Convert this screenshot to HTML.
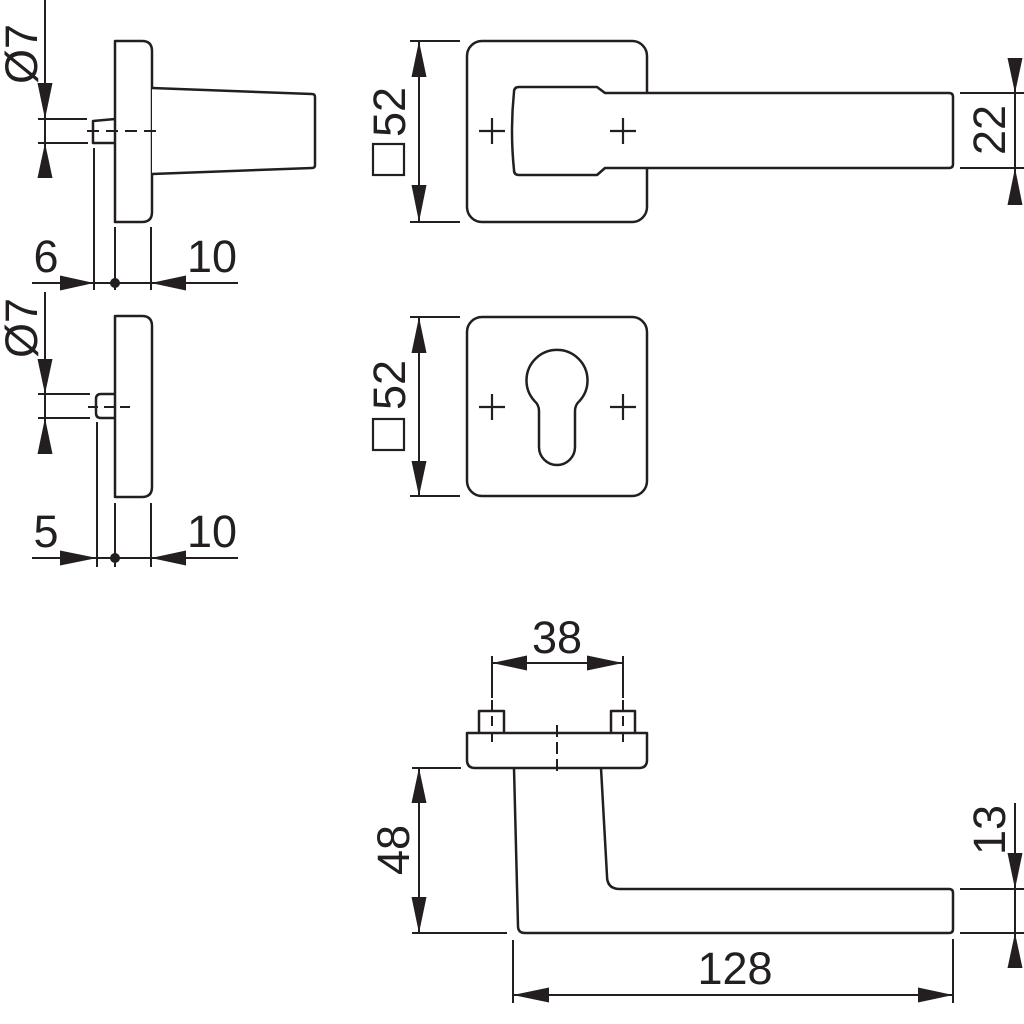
<!DOCTYPE html>
<html>
<head>
<meta charset="utf-8">
<style>
html,body{margin:0;padding:0;background:#fff;}
svg{display:block;}
text{font-family:"Liberation Sans",Arial,sans-serif;font-size:45px;fill:#231f20;}
</style>
</head>
<body>
<svg width="1024" height="1024" viewBox="0 0 1024 1024" xmlns="http://www.w3.org/2000/svg">
<g fill="none" stroke="#231f20" stroke-width="2.5" stroke-linejoin="round">

<!-- ===== Side view 1 (lever rose) ===== -->
<path d="M115,41 H142 Q152,41 152,51 V212 Q152,222 142,222 H115 Z"/>
<path d="M152,88 L312,94 Q315,94 315,97 V165 Q315,168 312,168 L152,174" fill="#fff"/>
<path d="M115,119 L93,121 V143 H115"/>
<line x1="87" y1="131" x2="158" y2="131" stroke-width="2" stroke-dasharray="12,7"/>

<!-- ===== Side view 2 (escutcheon) ===== -->
<path d="M115,316 H142 Q152,316 152,326 V487 Q152,497 142,497 H115 Z"/>
<path d="M115,394 H101 Q96,394 96,399 V413 Q96,418 101,418 H115"/>
<line x1="88" y1="407" x2="130" y2="407" stroke-width="2" stroke-dasharray="10,6"/>

<!-- ===== Top view rose with handle ===== -->
<rect x="467" y="41" width="180" height="181" rx="15" ry="15"/>
<path d="M519,87 H597 L605,93 H949 Q953,93 953,97 V164 Q953,168 949,168 H605 L597,175 H519 Q514,175 514,170 Q510,131 514,92 Q514,87 519,87 Z" fill="#fff"/>

<!-- ===== Escutcheon front ===== -->
<rect x="467" y="317" width="180" height="179" rx="15" ry="15"/>
<path d="M539,447 V411 Q539,405 534.5,401 A30.5,30.5 0 1 1 579.5,401 Q575,405 575,411 V447 A18,18 0 0 1 539,447 Z"/>

<!-- ===== Bottom side view lever ===== -->
<path d="M467,733 H647 V760 Q647,768 639,768 H475 Q467,768 467,760 Z"/>
<path d="M479,733 V711 H504 V733"/>
<path d="M611,733 V711 H635 V733"/>
<path d="M514,768 L518,926 Q518,933 525,933 H949 Q953,933 953,929 V893 Q953,889 949,889 H620 Q607,889 607,876 L601,768"/>
</g>

<!-- crosses -->
<g stroke="#231f20" stroke-width="2.2">
<line x1="479" y1="131" x2="505" y2="131"/><line x1="492" y1="118" x2="492" y2="144"/>
<line x1="610" y1="131" x2="636" y2="131"/><line x1="623" y1="118" x2="623" y2="144"/>
<line x1="479" y1="407" x2="505" y2="407"/><line x1="492" y1="394" x2="492" y2="420"/>
<line x1="610" y1="407" x2="636" y2="407"/><line x1="623" y1="394" x2="623" y2="420"/>
</g>

<!-- ===== Dimension lines ===== -->
<g stroke="#231f20" stroke-width="2" fill="none">
<line x1="45" y1="0" x2="45" y2="178"/>
<line x1="38" y1="119" x2="87" y2="119"/>
<line x1="38" y1="143" x2="88" y2="143"/>
<line x1="94" y1="148" x2="94" y2="290"/>
<line x1="115" y1="227" x2="115" y2="290"/>
<line x1="151" y1="227" x2="151" y2="290"/>
<line x1="32" y1="283" x2="238" y2="283"/>
<line x1="45" y1="292" x2="45" y2="454"/>
<line x1="38" y1="394" x2="90" y2="394"/>
<line x1="38" y1="418" x2="90" y2="418"/>
<line x1="97" y1="422" x2="97" y2="567"/>
<line x1="115" y1="503" x2="115" y2="567"/>
<line x1="151" y1="503" x2="151" y2="567"/>
<line x1="32" y1="558" x2="238" y2="558"/>
<line x1="419" y1="41" x2="419" y2="222"/>
<line x1="410" y1="41" x2="460" y2="41"/>
<line x1="410" y1="222" x2="460" y2="222"/>
<line x1="419" y1="317" x2="419" y2="496"/>
<line x1="410" y1="317" x2="460" y2="317"/>
<line x1="410" y1="496" x2="460" y2="496"/>
<line x1="960" y1="93" x2="1024" y2="93"/>
<line x1="960" y1="168" x2="1024" y2="168"/>
<line x1="1015" y1="58" x2="1015" y2="205"/>
<line x1="492" y1="663" x2="623" y2="663"/>
<line x1="492" y1="656" x2="492" y2="698"/>
<line x1="623" y1="656" x2="623" y2="698"/>
<line x1="492" y1="700" x2="492" y2="748" stroke-dasharray="10,6"/>
<line x1="623" y1="700" x2="623" y2="748" stroke-dasharray="10,6"/>
<line x1="557" y1="725" x2="557" y2="776" stroke-dasharray="12,5"/>
<line x1="419" y1="768" x2="419" y2="933"/>
<line x1="412" y1="768" x2="461" y2="768"/>
<line x1="412" y1="933" x2="507" y2="933"/>
<line x1="513" y1="940" x2="513" y2="1003"/>
<line x1="953" y1="939" x2="953" y2="1003"/>
<line x1="513" y1="995" x2="953" y2="995"/>
<line x1="960" y1="889" x2="1024" y2="889"/>
<line x1="960" y1="933" x2="1024" y2="933"/>
<line x1="1015" y1="803" x2="1015" y2="968"/>
</g>

<!-- ===== Arrowheads ===== -->
<g fill="#231f20" stroke="none">
<polygon points="45,119 37.5,83 52.5,83"/>
<polygon points="45,143 37.5,178 52.5,178"/>
<polygon points="94,283 60,275.5 60,290.5"/>
<polygon points="151,283 186,275.5 186,290.5"/>
<circle cx="115" cy="283" r="5"/>
<polygon points="45,394 37.5,359 52.5,359"/>
<polygon points="45,418 37.5,454 52.5,454"/>
<polygon points="97,558 60,550.5 60,565.5"/>
<polygon points="151,558 186,550.5 186,565.5"/>
<circle cx="115" cy="558" r="5"/>
<polygon points="419,41 411.5,77 426.5,77"/>
<polygon points="419,222 411.5,185 426.5,185"/>
<polygon points="419,317 411.5,353 426.5,353"/>
<polygon points="419,496 411.5,461 426.5,461"/>
<polygon points="1015,93 1007.5,58 1022.5,58"/>
<polygon points="1015,168 1007.5,205 1022.5,205"/>
<polygon points="492,663 527,655.5 527,670.5"/>
<polygon points="623,663 587,655.5 587,670.5"/>
<polygon points="419,768 411.5,803 426.5,803"/>
<polygon points="419,933 411.5,897 426.5,897"/>
<polygon points="513,995 549,987.5 549,1002.5"/>
<polygon points="953,995 918,987.5 918,1002.5"/>
<polygon points="1015,889 1007.5,853 1022.5,853"/>
<polygon points="1015,933 1007.5,968 1022.5,968"/>
</g>

<!-- square symbols for □52 -->
<g fill="none" stroke="#231f20" stroke-width="2.2">
<rect x="373" y="144" width="31" height="31"/>
<rect x="373" y="419" width="31" height="31"/>
</g>

<!-- ===== Text ===== -->
<text x="46" y="272" text-anchor="middle">6</text>
<text x="212" y="272" text-anchor="middle">10</text>
<text x="46" y="547" text-anchor="middle">5</text>
<text x="212" y="547" text-anchor="middle">10</text>
<text x="557" y="653" text-anchor="middle">38</text>
<text x="735" y="984" text-anchor="middle">128</text>
<text transform="translate(37,54) rotate(-90)" text-anchor="middle">Ø7</text>
<text transform="translate(37,328) rotate(-90)" text-anchor="middle">Ø7</text>
<text transform="translate(405,112) rotate(-90)" text-anchor="middle">52</text>
<text transform="translate(405,385) rotate(-90)" text-anchor="middle">52</text>
<text transform="translate(1005,130) rotate(-90)" text-anchor="middle">22</text>
<text transform="translate(1005,830) rotate(-90)" text-anchor="middle">13</text>
<text transform="translate(409,850) rotate(-90)" text-anchor="middle">48</text>
</svg>
</body>
</html>
